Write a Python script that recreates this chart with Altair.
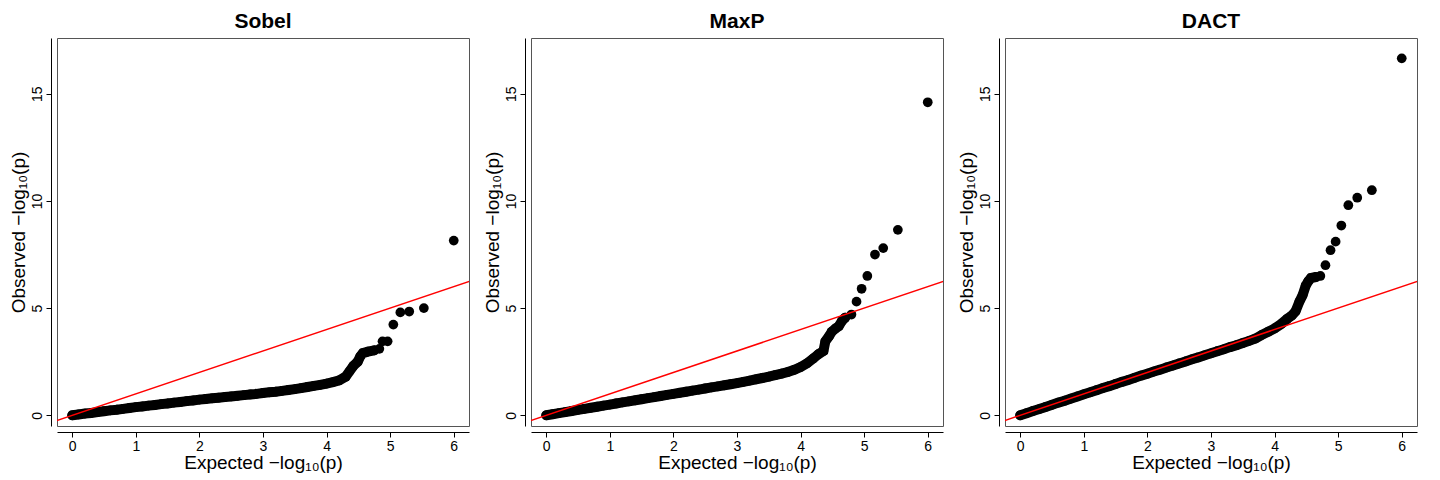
import altair as alt
import pandas as pd

# Expected -log10(p) for the dense part of each QQ curve
x_base = [round(i * 0.1, 1) for i in range(38)]

sobel_base = [0.0, 0.04, 0.08, 0.11, 0.15, 0.19, 0.23, 0.26, 0.30, 0.34, 0.38,
              0.41, 0.45, 0.48, 0.52, 0.55, 0.59, 0.62, 0.66, 0.69, 0.73,
              0.76, 0.79, 0.82, 0.85, 0.88, 0.91, 0.94, 0.97, 1.00, 1.04,
              1.07, 1.10, 1.14, 1.18, 1.22, 1.27, 1.32]
sobel_tail_x = [3.8, 3.9, 4.0, 4.1, 4.2, 4.3, 4.36, 4.42, 4.49, 4.53, 4.57, 4.65, 4.75, 4.83,
                4.88, 4.96, 5.05, 5.16, 5.3, 5.53, 6.0]
sobel_tail_y = [1.37, 1.42, 1.48, 1.55, 1.63, 1.8, 2.05, 2.3, 2.5, 2.75, 2.9, 2.97, 3.03, 3.1,
                3.45, 3.45, 4.23, 4.8, 4.84, 5.0, 8.15]

maxp_base = [0.0, 0.05, 0.10, 0.15, 0.20, 0.25, 0.30, 0.35, 0.40, 0.45, 0.50,
             0.55, 0.60, 0.65, 0.70, 0.75, 0.80, 0.85, 0.90, 0.95, 1.00,
             1.05, 1.10, 1.15, 1.20, 1.25, 1.30, 1.35, 1.40, 1.45, 1.50,
             1.56, 1.62, 1.68, 1.74, 1.80, 1.87, 1.94]
maxp_tail_x = [3.8, 3.9, 4.0, 4.1, 4.2, 4.28, 4.36, 4.39, 4.45, 4.49, 4.55, 4.6, 4.65,
               4.7, 4.8, 4.88, 4.96, 5.05, 5.17, 5.3, 5.53, 6.0]
maxp_tail_y = [2.02, 2.12, 2.25, 2.42, 2.65, 2.85, 3.0, 3.45, 3.7, 3.9, 4.05, 4.15, 4.4,
               4.55, 4.7, 5.3, 5.9, 6.5, 7.5, 7.8, 8.65, 14.6]

dact_base = [0.0, 0.10, 0.20, 0.29, 0.39, 0.49, 0.59, 0.68, 0.78, 0.88, 0.98,
             1.07, 1.17, 1.27, 1.36, 1.46, 1.56, 1.65, 1.75, 1.85, 1.94,
             2.04, 2.13, 2.23, 2.32, 2.42, 2.51, 2.61, 2.70, 2.80, 2.89,
             2.99, 3.08, 3.18, 3.27, 3.37, 3.47, 3.58]
dact_tail_x = [3.8, 3.9, 4.0, 4.1, 4.2, 4.27, 4.33, 4.39, 4.44, 4.49, 4.53, 4.57, 4.65,
               4.72, 4.8, 4.88, 4.96, 5.05, 5.16, 5.3, 5.53, 6.0]
dact_tail_y = [3.75, 3.9, 4.05, 4.25, 4.5, 4.65, 4.85, 5.3, 5.6, 6.05, 6.25, 6.4, 6.45,
               6.5, 7.0, 7.7, 8.1, 8.85, 9.8, 10.15, 10.5, 16.65]

# last point index of the continuous run (dense part) for each panel
dense_len = {"Sobel": 38 + 13, "MaxP": 38 + 14, "DACT": 38 + 13}

ref_x = [-1, 7]

panels = [
    ("Sobel", sobel_base, sobel_tail_x, sobel_tail_y),
    ("MaxP", maxp_base, maxp_tail_x, maxp_tail_y),
    ("DACT", dact_base, dact_tail_x, dact_tail_y),
]

FONT = "Liberation Sans"


def make_panel(name, base, tail_x, tail_y):
    pts = pd.DataFrame({"x": x_base + tail_x, "y": base + tail_y})
    dense = pts.iloc[: dense_len[name]]
    ref = pd.DataFrame({"x": ref_x, "y": ref_x})
    xs = alt.Scale(domain=[-0.24, 6.24], nice=False, zero=False)
    ys = alt.Scale(domain=[-0.5, 17.6], nice=False, zero=False)
    xaxis = alt.Axis(values=[0, 1, 2, 3, 4, 5, 6], format="d", title="Expected  −log₁₀(p)",
                     grid=False, offset=6, labelFontSize=14, titleFontSize=19,
                     titleFontWeight="normal", titlePadding=0, domainColor="black",
                     tickColor="black", labelColor="black", titleColor="black",
                     labelFont=FONT, titleFont=FONT)
    yaxis = alt.Axis(values=[0, 5, 10, 15], format="d", title="Observed  −log₁₀(p)", grid=False,
                     offset=6, labelAngle=270, labelAlign="center", labelBaseline="bottom",
                     labelFontSize=14, titleFontSize=19, titleFontWeight="normal",
                     titlePadding=2, domainColor="black", tickColor="black",
                     labelColor="black", titleColor="black", labelFont=FONT, titleFont=FONT)
    band = alt.Chart(dense).mark_line(color="black", strokeWidth=10, strokeCap="round").encode(
        x=alt.X("x:Q", scale=xs, axis=xaxis),
        y=alt.Y("y:Q", scale=ys, axis=yaxis),
        order="x:Q",
    )
    dots = alt.Chart(pts).mark_circle(size=95, color="black", opacity=1).encode(
        x=alt.X("x:Q", scale=xs),
        y=alt.Y("y:Q", scale=ys),
    )
    line = alt.Chart(ref).mark_line(color="red", strokeWidth=1.5, clip=True).encode(
        x=alt.X("x:Q", scale=xs), y=alt.Y("y:Q", scale=ys)
    )
    return alt.layer(band, dots, line).properties(
        width=412, height=388,
        title=alt.TitleParams(name, fontSize=21, fontWeight="bold", font=FONT, color="black",
                              offset=6),
    )


chart = alt.hconcat(*[make_panel(*p) for p in panels], spacing=12).configure_view(
    stroke="#555555", strokeWidth=1
).properties(padding={"left": 0, "top": 2, "right": 2, "bottom": 0})

chart.save("out.html", embed_options={"renderer": "svg", "actions": False})
